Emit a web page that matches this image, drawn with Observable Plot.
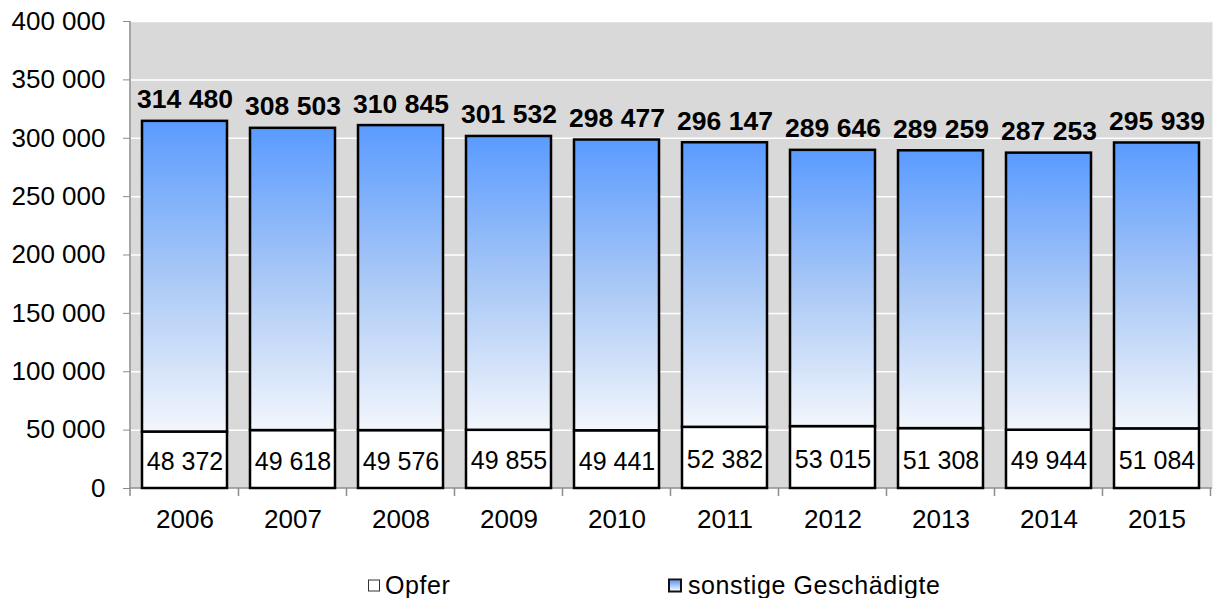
<!DOCTYPE html>
<html>
<head>
<meta charset="utf-8">
<script src="https://cdn.jsdelivr.net/npm/d3@7"></script>
<script src="https://cdn.jsdelivr.net/npm/@observablehq/plot@0.6"></script>
<style>
  body { margin: 0; background: #fff; font-family: "Liberation Sans", Arial, sans-serif; }
  #chart { width: 1215px; }
  #legend { position: relative; width: 1215px; height: 58px; font-size: 25px; letter-spacing: 0.6px; color: #000; }
  .item { position: absolute; top: 45px; display: flex; align-items: center; white-space: nowrap; transform: translateY(-50%); }
  .sw { box-sizing: border-box; }
</style>
</head>
<body>
<div id="chart"></div>
<div id="legend"></div>
<script>
const years = ["2006","2007","2008","2009","2010","2011","2012","2013","2014","2015"];
const opfer = [48372, 49618, 49576, 49855, 49441, 52382, 53015, 51308, 49944, 51084];
const gesamt = [314480, 308503, 310845, 301532, 298477, 296147, 289646, 289259, 287253, 295939];
const yTicks = [0, 50000, 100000, 150000, 200000, 250000, 300000, 350000, 400000];
const seriesNames = ["Opfer", "sonstige Geschädigte"];

const fmt = v => d3.format(",")(v).replace(/,/g, " ");

const data = years.map((year, i) => ({year, opfer: opfer[i], gesamt: gesamt[i]}));

const NS = "http://www.w3.org/2000/svg";
function gradientDefs() {
  const defs = document.createElementNS(NS, "defs");
  const lg = document.createElementNS(NS, "linearGradient");
  lg.setAttribute("id", "blueGrad");
  lg.setAttribute("x1", "0"); lg.setAttribute("y1", "0");
  lg.setAttribute("x2", "0"); lg.setAttribute("y2", "1");
  [["0%", "#5a9bff"], ["50%", "#a9c8f6"], ["100%", "#f3f6fc"]].forEach(([o, c]) => {
    const s = document.createElementNS(NS, "stop");
    s.setAttribute("offset", o); s.setAttribute("stop-color", c);
    lg.appendChild(s);
  });
  defs.appendChild(lg);
  return defs;
}

function axesLines(index, scales, values, dimensions) {
  const {x, y} = scales;
  const {marginLeft, marginRight, width} = dimensions;
  const g = document.createElementNS(NS, "g");
  g.setAttribute("stroke", "#8c8c8c");
  g.setAttribute("stroke-width", "1.5");
  const line = (x1, y1, x2, y2) => {
    const l = document.createElementNS(NS, "line");
    l.setAttribute("x1", x1); l.setAttribute("y1", y1);
    l.setAttribute("x2", x2); l.setAttribute("y2", y2);
    g.appendChild(l);
  };
  const y0 = y(0);
  const yTop = y(400000);
  line(marginLeft, yTop, marginLeft, y0 + 8);
  line(marginLeft, y0, width - marginRight, y0);
  const step = x(years[1]) - x(years[0]);
  const bw = x.bandwidth ? x.bandwidth() : step * 0.79;
  const off = (step - bw) / 2;
  years.forEach(yr => {
    const bx = x(yr) - off + step;
    line(bx, y0, bx, y0 + 8);
  });
  return g;
}

const chart = Plot.plot({
  width: 1215,
  height: 540,
  marginLeft: 130,
  marginRight: 3,
  marginTop: 21,
  marginBottom: 52,
  style: {fontFamily: "Liberation Sans, Arial, sans-serif", fontSize: "26px", color: "#000", background: "#fff"},
  x: {type: "band", domain: years, paddingInner: 0.21, paddingOuter: 0.105, axis: null, label: null},
  y: {domain: [0, 400000], axis: null, label: null},
  marks: [
    gradientDefs,
    Plot.frame({fill: "#d9d9d9", stroke: null}),
    Plot.gridY(yTicks, {stroke: "#ffffff", strokeOpacity: 1, strokeWidth: 1.5}),
    Plot.axisY(yTicks, {tickSize: 7, tickPadding: 18, tickFormat: fmt, stroke: "#8c8c8c", fill: "#000", fontSize: 26, label: null}),
    Plot.axisX({tickSize: 0, tickPadding: 21, fill: "#000", fontSize: 26, label: null}),
    axesLines,
    Plot.barY(data, {x: "year", y1: 0, y2: "opfer", fill: "#ffffff", stroke: "#000", strokeWidth: 2.5}),
    Plot.barY(data, {x: "year", y1: "opfer", y2: "gesamt", fill: "url(#blueGrad)", stroke: "#000", strokeWidth: 2.5}),
    Plot.text(data, {x: "year", y: "gesamt", text: d => fmt(d.gesamt), dy: -13, lineAnchor: "bottom", fontWeight: "bold", fontSize: 26.5, fill: "#000"}),
    Plot.text(data, {x: "year", y: d => d.opfer / 2, text: d => fmt(d.opfer), dy: 2, fontSize: 25, fill: "#000"})
  ]
});
document.getElementById("chart").appendChild(chart);

const legend = document.getElementById("legend");
const items = [
  {name: seriesNames[0], left: 368, gap: 5, sw: "width:12px;height:12px;background:#fff;border:1px solid #333;"},
  {name: seriesNames[1], left: 668, gap: 6, sw: "width:14px;height:14px;background:linear-gradient(#5a9bff,#f3f6fc);border:2.5px solid #111;"}
];
items.forEach(it => {
  const d = document.createElement("div");
  d.className = "item";
  d.style.left = it.left + "px";
  d.innerHTML = `<span class="sw" style="${it.sw}margin-right:${it.gap}px"></span><span>${it.name}</span>`;
  legend.appendChild(d);
});
</script>
</body>
</html>
